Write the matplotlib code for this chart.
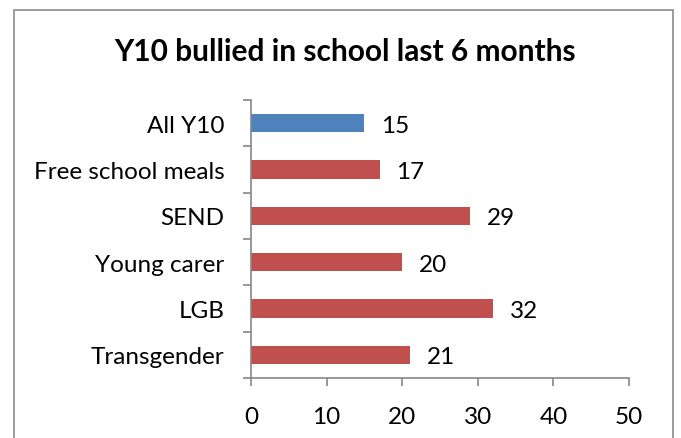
import matplotlib
matplotlib.use("Agg")
import matplotlib.pyplot as plt
from matplotlib.patches import Rectangle

categories = ["All Y10", "Free school meals", "SEND", "Young carer", "LGB", "Transgender"]
values = [15, 17, 29, 20, 32, 21]
colors = ["#4F81BD", "#C0504D", "#C0504D", "#C0504D", "#C0504D", "#C0504D"]
xticks = [0, 10, 20, 30, 40, 50]
title = "Y10 bullied in school last 6 months"

plt.rcParams['font.family'] = ['Lato', 'DejaVu Sans']

fig = plt.figure(figsize=(6.81, 4.39), dpi=100)
fig.patches.append(Rectangle((14/681, -0.01), (673-14)/681, 1 - 11/439 + 0.01,
                             transform=fig.transFigure, fill=False,
                             edgecolor="#8C8C8C", linewidth=1.2))
ax = fig.add_axes([251/681, 1-379/439, (629-251)/681, (379-101)/439])

ypos = list(range(len(categories)))
ax.barh(ypos, values, height=0.4, color=colors)
ax.set_ylim(len(categories)-0.5, -0.5)
ax.set_xlim(0, 50)
ax.set_xticks(xticks)
ax.set_xticklabels([str(t) for t in xticks], fontsize=17.5)
ax.set_yticks(ypos)
ax.set_yticklabels(categories, fontsize=17.5)
ax.set_yticks([i - 0.5 for i in range(len(categories)+1)], minor=True)
ax.tick_params(axis='y', which='major', length=0, pad=19)
ax.tick_params(axis='y', which='minor', length=6, color="#868686", width=1.2)
ax.tick_params(axis='x', length=6, color="#868686", width=1.2, pad=14)

for s in ['top', 'right']:
    ax.spines[s].set_visible(False)
for s in ['left', 'bottom']:
    ax.spines[s].set_color("#868686")
    ax.spines[s].set_linewidth(1.2)

for y, v in zip(ypos, values):
    ax.annotate(str(v), (v, y), xytext=(12, -1.5), textcoords='offset points',
                va='center', ha='left', fontsize=17.5)

fig.text(345/681, 1-52/439, title, ha='center', va='center', fontsize=21.5, fontweight='bold')

fig.savefig("out.png", dpi=100)
